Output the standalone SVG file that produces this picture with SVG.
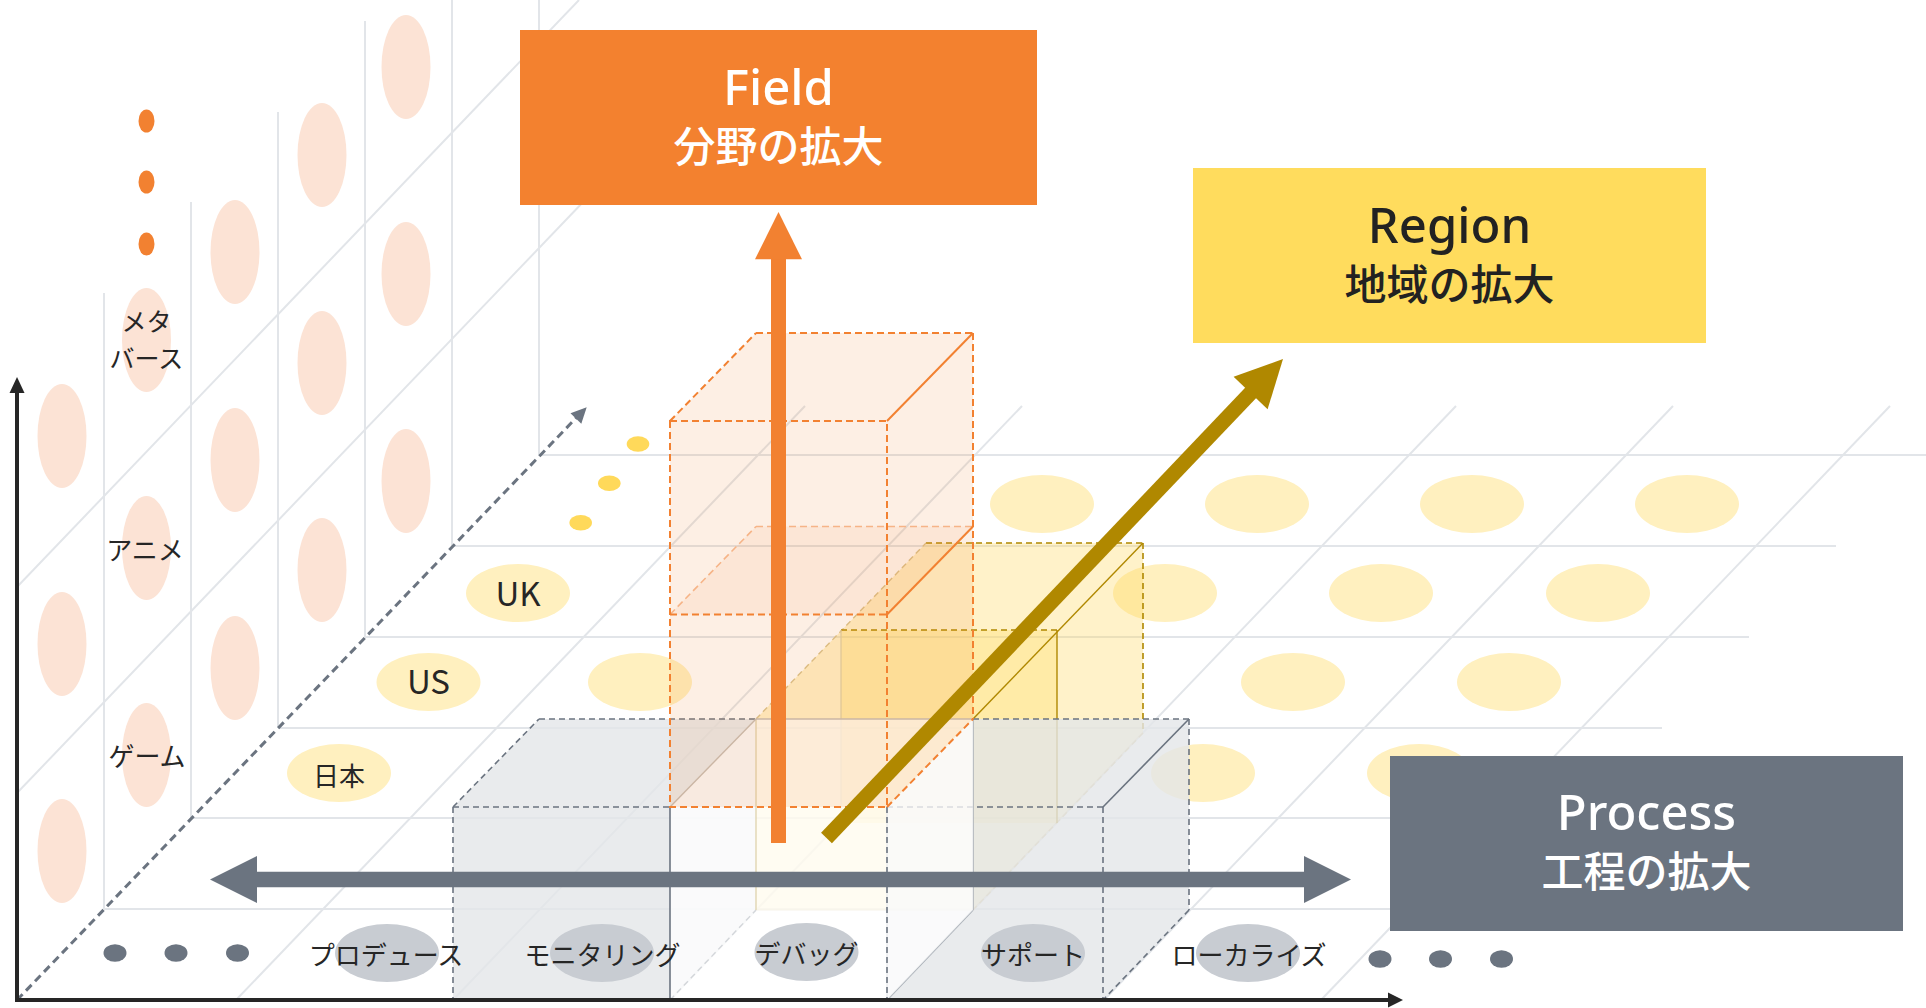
<svg xmlns="http://www.w3.org/2000/svg" width="1926" height="1008" viewBox="0 0 1926 1008">
  <style>
    .grid{stroke:#E2E5E9;stroke-width:2;fill:none}
    .wall-oval{fill:#FCE3D5}
    .region-oval{fill:#FFF0BF}
    .proc-oval{fill:#C8CCD2}
    .dot-o{fill:#F28131}
    .dot-y{fill:#FFD95A}
    .dot-g{fill:#6B7480}
    .lbl{font-family:"Noto Sans CJK JP",sans-serif;font-size:26px;fill:#262626;text-anchor:middle}
    .lbl-en{font-family:"Noto Sans CJK JP",sans-serif;font-size:33px;fill:#262626;text-anchor:middle}
    .ttl-en{font-family:"Noto Sans","Noto Sans CJK JP",sans-serif;font-size:49px;font-weight:500;text-anchor:middle}
    .ttl-jp{font-family:"Noto Sans CJK JP",sans-serif;font-size:42px;font-weight:500;text-anchor:middle}
    .e{fill:none}
    .dg{stroke:#6B7480;stroke-width:1.6;stroke-dasharray:6 4}
    .sg{stroke:#6B7480;stroke-width:1.6}
    .sgl{stroke:#A7ADB5;stroke-width:1.4}
    .dgl{stroke:#D3D6DA;stroke-width:1.4;stroke-dasharray:6 4}
    .do{stroke:#F28131;stroke-width:2;stroke-dasharray:7 4}
    .dol{stroke:#F6B487;stroke-width:1.6;stroke-dasharray:7 4}
    .so{stroke:#F28131;stroke-width:2}
    .dy{stroke:#B08800;stroke-width:1.6;stroke-dasharray:6 4}
    .sy{stroke:#B08800;stroke-width:1.4}
    .dyl{stroke:#D9C48E;stroke-width:1.4;stroke-dasharray:6 4}
    .syl{stroke:#DCCFA6;stroke-width:1.2}
    .sbr{stroke:#C6BEB6;stroke-width:1.4}
  </style>

  <rect width="1926" height="1008" fill="#FFFFFF"/>

  <!-- back wall grid (field axis) -->
  <g id="wall-grid" class="grid">
    <line x1="104" y1="909" x2="104" y2="293"/>
    <line x1="191" y1="818" x2="191" y2="202"/>
    <line x1="278" y1="728" x2="278" y2="112"/>
    <line x1="365" y1="637" x2="365" y2="21"/>
    <line x1="452" y1="546" x2="452" y2="0"/>
    <line x1="539" y1="455" x2="539" y2="0"/>
    <line x1="17" y1="793" x2="586" y2="199"/>
    <line x1="17" y1="587" x2="579" y2="0"/>
  </g>

  <!-- floor grid (process x region) -->
  <g id="floor-grid" class="grid">
    <line x1="104" y1="909" x2="1489" y2="909"/>
    <line x1="191" y1="818" x2="1576" y2="818"/>
    <line x1="278" y1="728" x2="1662" y2="728"/>
    <line x1="365" y1="637" x2="1749" y2="637"/>
    <line x1="452" y1="546" x2="1836" y2="546"/>
    <line x1="539" y1="455" x2="1926" y2="455"/>
    <line x1="236" y1="1000" x2="805" y2="406"/>
    <line x1="453" y1="1000" x2="1022" y2="406"/>
    <line x1="670" y1="1000" x2="1239" y2="406"/>
    <line x1="887" y1="1000" x2="1456" y2="406"/>
    <line x1="1104" y1="1000" x2="1673" y2="406"/>
    <line x1="1321" y1="1000" x2="1890" y2="406"/>
  </g>

  <!-- field cells on the wall -->
  <g id="wall-cells">
    <ellipse class="wall-oval" cx="62" cy="436" rx="24.5" ry="52"/>
    <ellipse class="wall-oval" cx="62" cy="644" rx="24.5" ry="52"/>
    <ellipse class="wall-oval" cx="62" cy="851" rx="24.5" ry="52"/>
    <ellipse class="wall-oval" cx="146.5" cy="340" rx="24.5" ry="52"/>
    <ellipse class="wall-oval" cx="146.5" cy="548" rx="24.5" ry="52"/>
    <ellipse class="wall-oval" cx="146.5" cy="755" rx="24.5" ry="52"/>
    <ellipse class="wall-oval" cx="235" cy="252" rx="24.5" ry="52"/>
    <ellipse class="wall-oval" cx="235" cy="460" rx="24.5" ry="52"/>
    <ellipse class="wall-oval" cx="235" cy="668" rx="24.5" ry="52"/>
    <ellipse class="wall-oval" cx="322" cy="155" rx="24.5" ry="52"/>
    <ellipse class="wall-oval" cx="322" cy="363" rx="24.5" ry="52"/>
    <ellipse class="wall-oval" cx="322" cy="570" rx="24.5" ry="52"/>
    <ellipse class="wall-oval" cx="406" cy="67" rx="24.5" ry="52"/>
    <ellipse class="wall-oval" cx="406" cy="274" rx="24.5" ry="52"/>
    <ellipse class="wall-oval" cx="406" cy="481" rx="24.5" ry="52"/>
    <ellipse class="dot-o" cx="146.5" cy="121" rx="8" ry="11.5"/>
    <ellipse class="dot-o" cx="146.5" cy="182" rx="8" ry="11.5"/>
    <ellipse class="dot-o" cx="146.5" cy="244" rx="8" ry="11.5"/>
  </g>
  <g id="label-metaverse"><text class="lbl" x="146.5" y="331" style="font-size:25px">メタ<tspan x="146.5" dy="37">バース</tspan></text></g>
  <g id="label-anime"><text class="lbl" x="145" y="560">アニメ</text></g>
  <g id="label-game"><text class="lbl" x="147" y="766">ゲーム</text></g>

  <!-- region cells on the floor -->
  <g id="floor-cells">
    <ellipse class="region-oval" cx="339" cy="773" rx="52" ry="29"/>
    <ellipse class="region-oval" cx="1203" cy="773" rx="52" ry="29"/>
    <ellipse class="region-oval" cx="1419" cy="773" rx="52" ry="29"/>
    <ellipse class="region-oval" cx="428.5" cy="682" rx="52" ry="29"/>
    <ellipse class="region-oval" cx="640" cy="682" rx="52" ry="29"/>
    <ellipse class="region-oval" cx="1293" cy="682" rx="52" ry="29"/>
    <ellipse class="region-oval" cx="1509" cy="682" rx="52" ry="29"/>
    <ellipse class="region-oval" cx="518" cy="593" rx="52" ry="29"/>
    <ellipse class="region-oval" cx="1165" cy="593" rx="52" ry="29"/>
    <ellipse class="region-oval" cx="1381" cy="593" rx="52" ry="29"/>
    <ellipse class="region-oval" cx="1598" cy="593" rx="52" ry="29"/>
    <ellipse class="region-oval" cx="1042" cy="504" rx="52" ry="29"/>
    <ellipse class="region-oval" cx="1257" cy="504" rx="52" ry="29"/>
    <ellipse class="region-oval" cx="1472" cy="504" rx="52" ry="29"/>
    <ellipse class="region-oval" cx="1687" cy="504" rx="52" ry="29"/>
    <ellipse class="dot-y" cx="580.7" cy="522.7" rx="11.3" ry="7.7"/>
    <ellipse class="dot-y" cx="609.3" cy="483.3" rx="11.3" ry="7.7"/>
    <ellipse class="dot-y" cx="638" cy="444" rx="11.3" ry="7.7"/>
  </g>
  <g id="label-japan"><text class="lbl" x="339" y="786">日本</text></g>
  <g id="label-us"><text class="lbl-en" x="428.5" y="694">US</text></g>
  <g id="label-uk"><text class="lbl-en" x="518" y="606">UK</text></g>

  <!-- depth (region) axis -->
  <g id="depth-axis">
    <line x1="17" y1="1000" x2="577" y2="417" stroke="#6B7480" stroke-width="3" stroke-dasharray="8 5"/>
    <polygon points="586.7,407.3 581.3,423.7 570.5,413.3" fill="#6B7480"/>
  </g>

  <!-- region stack (yellow) -->
  <g id="cube-region">
    <polygon points="756,719 926,543 1143,543 1143,733 973,910 756,910" fill="#FFD95A" fill-opacity="0.33"/>
    <rect x="841" y="630" width="216" height="193" fill="#FFD95A" fill-opacity="0.3"/>
    <line class="e dy" x1="926" y1="543" x2="1143" y2="543"/>
    <line class="e dy" x1="1143" y1="543" x2="1143" y2="733"/>
    <line class="e dyl" x1="1143" y1="733" x2="973" y2="910"/>
    <line class="e sy" x1="973" y1="719" x2="1143" y2="543"/>
    <line class="e dyl" x1="756" y1="719" x2="926" y2="543"/>
    <line class="e dy" x1="841" y1="630" x2="1057" y2="630"/>
    <line class="e sy" x1="1057" y1="630" x2="1057" y2="823"/>
    <line class="e syl" x1="841" y1="630" x2="841" y2="823"/>
    <line class="e syl" x1="756" y1="910" x2="973" y2="910"/>
  </g>

  <!-- process cubes (gray) -->
  <g id="cube-monitoring">
    <polygon points="453,1000 453,807 539,719 756,719 756,910 670,1000" fill="#E4E6E9" fill-opacity="0.8"/>
    <line class="e dg" x1="453" y1="807" x2="453" y2="1000"/>
    <line class="e dg" x1="453" y1="807" x2="670" y2="807"/>
    <line class="e dg" x1="453" y1="807" x2="539" y2="719"/>
    <line class="e dg" x1="539" y1="719" x2="756" y2="719"/>
  </g>
  <g id="cube-support">
    <polygon points="887,1000 887,807 973,719 1189,719 1189,910 1103,1000" fill="#E4E6E9" fill-opacity="0.8"/>
    <line class="e sgl" x1="887" y1="807" x2="887" y2="1000"/>
    <line class="e sgl" x1="973" y1="719" x2="973" y2="910"/>
    <line class="e sgl" x1="887" y1="1000" x2="973" y2="910"/>
    <line class="e dg" x1="887" y1="807" x2="1103" y2="807"/>
    <line class="e dg" x1="1103" y1="807" x2="1103" y2="1000"/>
    <line class="e sg" x1="1103" y1="807" x2="1189" y2="719"/>
    <line class="e dg" x1="973" y1="719" x2="1189" y2="719"/>
    <line class="e dg" x1="1189" y1="719" x2="1189" y2="910"/>
    <line class="e dg" x1="1189" y1="910" x2="1103" y2="1000"/>
  </g>
  <g id="cube-origin">
    <polygon points="670,1000 670,807 756,719 973,719 973,910 887,1000" fill="#FFFFFF" fill-opacity="0.75"/>
    <line class="e dgl" x1="670" y1="1000" x2="756" y2="910"/>
    <line class="e syl" x1="756" y1="719" x2="756" y2="910"/>
    <line class="e sbr" x1="670" y1="807" x2="756" y2="719"/>
    <line class="e sbr" x1="756" y1="719" x2="973" y2="719"/>
    <line class="e sg" x1="670" y1="807" x2="670" y2="1000"/>
    <line class="e dg" x1="887" y1="807" x2="887" y2="1000"/>
  </g>

  <!-- field stack (orange) -->
  <g id="cube-field">
    <polygon points="670,807 670,421 756,333 973,333 973,719 887,807" fill="#F28131" fill-opacity="0.13"/>
    <polygon points="670,614.5 887,614.5 973,526.5 756,526.5" fill="#F28131" fill-opacity="0.08"/>
    <line class="e dol" x1="756" y1="526.5" x2="973" y2="526.5"/>
    <line class="e dol" x1="670" y1="614.5" x2="756" y2="526.5"/>
    <rect class="e do" x="670" y="421" width="217" height="386"/>
    <line class="e do" x1="670" y1="614.5" x2="887" y2="614.5"/>
    <line class="e do" x1="670" y1="421" x2="756" y2="333"/>
    <line class="e do" x1="756" y1="333" x2="973" y2="333"/>
    <line class="e so" x1="887" y1="421" x2="973" y2="333"/>
    <line class="e do" x1="973" y1="333" x2="973" y2="719"/>
    <line class="e so" x1="887" y1="614.5" x2="973" y2="526.5"/>
    <line class="e do" x1="887" y1="807" x2="973" y2="719"/>
  </g>

  <!-- process steps -->
  <g id="process-more-left">
    <ellipse class="dot-g" cx="115" cy="953" rx="11.5" ry="8.7"/>
    <ellipse class="dot-g" cx="176" cy="953" rx="11.5" ry="8.7"/>
    <ellipse class="dot-g" cx="237.5" cy="953" rx="11.5" ry="8.7"/>
  </g>
  <g id="step-produce"><ellipse class="proc-oval" cx="387" cy="953" rx="52" ry="29"/><text class="lbl" x="386" y="965">プロデュース</text></g>
  <g id="step-monitoring"><ellipse class="proc-oval" cx="602" cy="953" rx="52" ry="29"/><text class="lbl" x="602.5" y="965">モニタリング</text></g>
  <g id="step-debug"><ellipse class="proc-oval" cx="806.5" cy="952" rx="52" ry="29"/><text class="lbl" x="806.5" y="964">デバッグ</text></g>
  <g id="step-support"><ellipse class="proc-oval" cx="1033" cy="953" rx="52" ry="29"/><text class="lbl" x="1033" y="965">サポート</text></g>
  <g id="step-localize"><ellipse class="proc-oval" cx="1248" cy="953" rx="52" ry="29"/><text class="lbl" x="1249" y="965">ローカライズ</text></g>
  <g id="process-more-right">
    <ellipse class="dot-g" cx="1380" cy="959" rx="11.5" ry="8.7"/>
    <ellipse class="dot-g" cx="1440.5" cy="959" rx="11.5" ry="8.7"/>
    <ellipse class="dot-g" cx="1501.5" cy="959" rx="11.5" ry="8.7"/>
  </g>

  <!-- expansion arrows and axes -->
  <g id="connectors">
    <line x1="255" y1="879.5" x2="1306" y2="879.5" stroke="#6B7480" stroke-width="15.6"/>
    <polygon points="210,879.5 257,856 257,903" fill="#6B7480"/>
    <polygon points="1351,879.5 1304,856 1304,903" fill="#6B7480"/>

    <line x1="778.5" y1="843" x2="778.5" y2="257" stroke="#F28131" stroke-width="15"/>
    <polygon points="778.5,212 755,259.3 802,259.3" fill="#F28131"/>

    <line x1="826.5" y1="838" x2="1252" y2="391.5" stroke="#B08800" stroke-width="15"/>
    <polygon points="1283,359 1267.6,409.2 1233.6,376.8" fill="#B08800"/>

    <line x1="17" y1="1002" x2="17" y2="390" stroke="#262626" stroke-width="4"/>
    <polygon points="17,377 9.5,393 24.5,393" fill="#262626"/>
    <line x1="15" y1="1000" x2="1390" y2="1000" stroke="#262626" stroke-width="4"/>
    <polygon points="1403,1000 1388,992.5 1388,1007.5" fill="#262626"/>
  </g>

  <!-- axis titles -->
  <g id="node-field">
    <rect x="520" y="30" width="517" height="175" fill="#F3812F"/>
    <text class="ttl-en" x="778.5" y="105" fill="#FFFFFF">Field</text>
    <text class="ttl-jp" x="778.5" y="162" fill="#FFFFFF">分野の拡大</text>
  </g>
  <g id="node-region">
    <rect x="1193" y="168" width="513" height="175" fill="#FFDC5D"/>
    <text class="ttl-en" x="1449.5" y="243" fill="#222222">Region</text>
    <text class="ttl-jp" x="1449.5" y="300" fill="#222222">地域の拡大</text>
  </g>
  <g id="node-process">
    <rect x="1390" y="756" width="513" height="175" fill="#6B7480"/>
    <text class="ttl-en" x="1646.5" y="830" fill="#FFFFFF">Process</text>
    <text class="ttl-jp" x="1646.5" y="887" fill="#FFFFFF">工程の拡大</text>
  </g>
</svg>
